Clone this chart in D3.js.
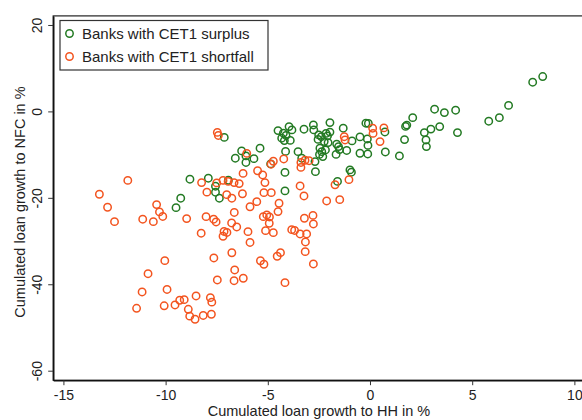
<!DOCTYPE html>
<html>
<head>
<meta charset="utf-8">
<script src="https://cdn.jsdelivr.net/npm/d3@7"></script>
<style>
  html, body { margin: 0; padding: 0; background: #fff; }
  svg { display: block; font-family: "Liberation Sans", Arial, sans-serif; }
</style>
</head>
<body>
<svg id="chart" width="582" height="420"></svg>
<script>
// ---- Data ----
const seriesNames = ["Banks with CET1 surplus", "Banks with CET1 shortfall"];
const xTicks = [-15, -10, -5, 0, 5, 10];
const yTicks = [20, 0, -20, -40, -60];
const xTitle = "Cumulated loan growth to HH in %";
const yTitle = "Cumulated loan growth to NFC in %";

// Banks with CET1 surplus: [HH growth, NFC growth]
const surplusHH = [8.45, 7.96, 6.78, 6.33, 5.81, 3.16, 3.64, 4.19, 4.28, 3.41, 2.98, 2.66, 2.74, 2.76, 2.09, 1.80, 1.74, 1.69, 1.44, 0.75, 0.73, -0.20, -0.08, -0.49, -0.13, -0.10, -0.11, -0.49, -0.98, -0.91, -0.88, -1.14, -1.54, -1.49, -1.66, -1.31, -1.96, -1.96, -2.15, -2.08, -2.38, -2.51, -2.24, -2.05, -2.45, -2.36, -2.47, -2.18, -2.31, -2.77, -2.75, -3.23, -2.54, -3.96, -3.82, -4.24, -4.11, -4.32, -4.19, -3.90, -4.50, -4.13, -3.52, -3.34, -2.69, -2.67, -1.59, -4.16, -4.16, -5.38, -5.68, -4.86, -6.28, -6.59, -6.07, -6.07, -7.13, -7.91, -7.56, -7.56, -7.37, -6.93, -8.81, -9.26, -9.49, -1.63];
const surplusNFC = [8.06, 6.76, 1.39, -1.44, -2.27, 0.51, -0.28, 0.28, -4.91, -3.52, -4.10, -4.91, -6.60, -8.15, -1.44, -3.17, -3.47, -6.53, -10.30, -9.38, -4.75, -2.73, -2.78, -5.90, -6.37, -7.87, -9.84, -9.68, -13.54, -14.07, -6.83, -9.03, -8.15, -8.84, -9.95, -3.89, -2.59, -4.79, -5.09, -5.67, -5.83, -5.44, -6.99, -7.22, -8.52, -9.31, -9.95, -8.91, -10.46, -3.13, -4.28, -4.12, -6.48, -3.52, -4.28, -5.05, -5.56, -6.20, -6.76, -6.71, -4.44, -9.26, -9.31, -10.83, -11.62, -13.94, -16.20, -18.40, -14.12, -8.52, -10.93, -12.15, -9.14, -10.83, -11.81, -10.30, -6.02, -15.46, -17.31, -18.70, -20.09, -15.93, -15.69, -20.09, -22.27, -7.57];

// Banks with CET1 shortfall: [HH growth, NFC growth]
const shortfallHH = [-11.85, -13.24, -12.84, -12.50, -11.12, -10.60, -10.44, -10.30, -10.14, -8.97, -8.02, -7.65, -7.53, -8.24, -7.98, -7.50, -7.19, -6.94, -6.65, -6.40, -7.01, -6.76, -6.24, -6.21, -7.47, -7.42, -6.03, -5.50, -5.25, -5.14, -5.87, -5.54, -5.19, -4.83, -4.45, -4.50, -6.64, -6.77, -6.52, -8.26, -7.14, -7.00, -7.19, -5.97, -5.87, -5.22, -5.05, -4.92, -4.93, -5.11, -4.73, -3.83, -3.69, -3.42, -3.10, -3.16, -3.17, -3.21, -2.79, -2.77, -2.77, -6.76, -7.64, -5.36, -5.19, -4.54, -4.38, -4.16, -6.62, -6.65, -7.47, -10.04, -10.86, -11.15, -9.93, -11.42, -10.07, -9.54, -9.31, -9.09, -8.51, -7.81, -7.74, -8.89, -8.82, -8.56, -8.16, -7.76, -6.20, -4.84, -4.73, -4.22, -3.38, -3.18, -2.98, -3.38, -3.42, -3.23, -2.12, -1.48, -1.71, -1.03, -1.26, -1.22, 0.13, 0.15, 0.68, 0.49];
const shortfallNFC = [-15.97, -19.17, -22.18, -25.51, -24.95, -25.51, -21.57, -23.26, -24.31, -24.81, -24.35, -24.95, -25.58, -16.48, -18.68, -16.55, -15.97, -16.20, -16.48, -16.71, -19.26, -20.09, -19.05, -14.35, -4.86, -5.56, -9.72, -13.73, -14.70, -16.48, -22.06, -20.88, -18.80, -18.80, -21.25, -23.19, -23.38, -25.81, -26.74, -28.19, -27.78, -28.01, -28.89, -27.82, -30.32, -24.35, -23.96, -24.42, -25.88, -27.59, -28.06, -27.36, -27.55, -28.36, -28.36, -30.21, -32.45, -24.72, -24.07, -26.04, -35.30, -32.71, -33.91, -34.56, -35.37, -33.52, -32.69, -39.63, -36.69, -39.17, -39.00, -34.54, -37.55, -41.78, -41.20, -45.56, -44.98, -44.79, -43.70, -43.56, -42.71, -43.10, -44.14, -45.79, -47.38, -48.10, -47.22, -46.94, -38.61, -12.22, -11.53, -11.00, -11.81, -11.30, -11.41, -12.96, -17.25, -19.56, -20.72, -20.42, -16.97, -15.79, -5.86, -6.60, -3.89, -5.09, -3.82, -6.99];

const colors = ["#237a23", "#f3541f"];

// ---- Chart ----
const svg = d3.select("#chart");
const x = d3.scaleLinear().domain([-15.5, 10.5]).range([53.2, 584.6]);
const y = d3.scaleLinear().domain([-62.2, 22.1]).range([380.2, 15.9]);

// frame
const [x0, x1] = x.range();
const [yb, yt] = y.range();
svg.append("rect")
  .attr("x", x0).attr("y", yt)
  .attr("width", x1 - x0).attr("height", yb - yt)
  .attr("fill", "none").attr("stroke", "#222").attr("stroke-width", 1.2);

// X axis
const gx = svg.append("g")
  .attr("transform", `translate(0,${yb})`)
  .call(d3.axisBottom(x).tickValues(xTicks).tickSize(5).tickSizeOuter(0).tickFormat(d => String(d)));
gx.select(".domain").attr("stroke", "#111").attr("stroke-width", 1.6);
gx.selectAll(".tick line").attr("stroke", "#333").attr("stroke-width", 1);
gx.selectAll(".tick text").attr("font-size", 14).attr("fill", "#222").attr("y", 10).attr("dy", "0.71em")
  .style("font-family", "'Liberation Sans', Arial, sans-serif");

// Y axis
const gy = svg.append("g")
  .attr("transform", `translate(${x0},0)`)
  .call(d3.axisLeft(y).tickValues(yTicks).tickSize(5).tickSizeOuter(0).tickFormat(d => String(d)));
gy.select(".domain").attr("stroke", "#111").attr("stroke-width", 1.6);
gy.selectAll(".tick line").attr("stroke", "#333").attr("stroke-width", 1);
gy.selectAll(".tick text")
  .attr("font-size", 14).attr("fill", "#222")
  .attr("x", null).attr("dy", null)
  .attr("text-anchor", "middle")
  .attr("transform", "translate(-11,0) rotate(-90)")
  .style("font-family", "'Liberation Sans', Arial, sans-serif");

// Axis titles
svg.append("text")
  .attr("x", (x0 + x1) / 2).attr("y", 415.5)
  .attr("text-anchor", "middle").attr("font-size", 14.5).attr("fill", "#222")
  .text(xTitle);
svg.append("text")
  .attr("transform", `translate(25,${(yt + yb) / 2 + 4}) rotate(-90)`)
  .attr("text-anchor", "middle").attr("font-size", 14.5).attr("fill", "#222")
  .text(yTitle);

// Points
const surplus = surplusHH.map((v, i) => ({ hh: v, nfc: surplusNFC[i] }));
const shortfall = shortfallHH.map((v, i) => ({ hh: v, nfc: shortfallNFC[i] }));
[surplus, shortfall].forEach((data, k) => {
  svg.append("g").selectAll("circle")
    .data(data).join("circle")
    .attr("cx", d => x(d.hh)).attr("cy", d => y(d.nfc))
    .attr("r", 3.7)
    .attr("fill", "none")
    .attr("stroke", colors[k])
    .attr("stroke-width", 1.5);
});

// Legend
const lg = svg.append("g");
lg.append("rect")
  .attr("x", 60).attr("y", 20.5).attr("width", 208).attr("height", 49.5)
  .attr("fill", "#fff").attr("stroke", "#333").attr("stroke-width", 1.2);
seriesNames.forEach((name, i) => {
  const cy = 33.5 + i * 23;
  lg.append("circle").attr("cx", 69.5).attr("cy", cy).attr("r", 3.7)
    .attr("fill", "none").attr("stroke", colors[i]).attr("stroke-width", 1.5);
  lg.append("text").attr("x", 82).attr("y", cy + 5.5)
    .attr("font-size", 15).attr("fill", "#222").text(name);
});
</script>
</body>
</html>
